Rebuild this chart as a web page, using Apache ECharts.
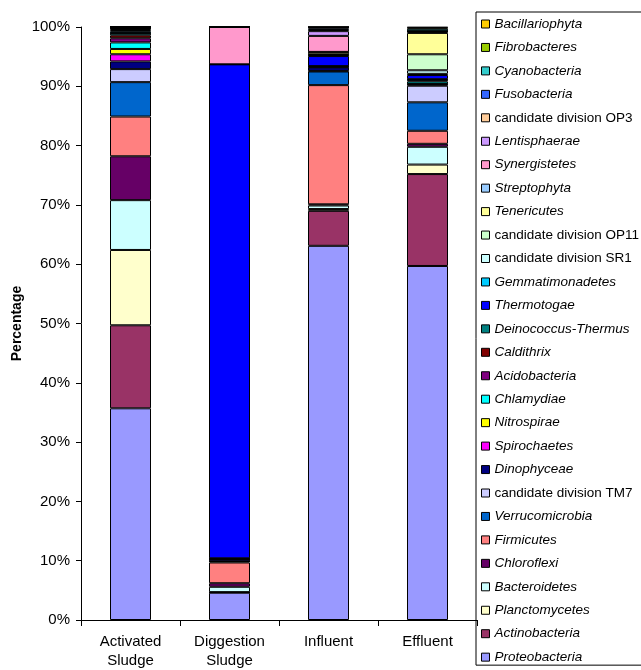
<!DOCTYPE html>
<html>
<head>
<meta charset="utf-8">
<script src="https://cdn.jsdelivr.net/npm/echarts@6/dist/echarts.min.js"></script>
<style>
html,body{margin:0;padding:0;background:#fff;}
#chart{width:641px;height:670px;}
</style>
</head>
<body>
<div id="chart"></div>
<script>
var categories = ['Activated\nSludge', 'Diggestion\nSludge', 'Influent', 'Effluent'];

// stacking order, bottom to top
var seriesNames = ['Proteobacteria','Actinobacteria','Planctomycetes','Bacteroidetes','Chloroflexi','Firmicutes','Verrucomicrobia','candidate division TM7','Dinophyceae','Spirochaetes','Nitrospirae','Chlamydiae','Acidobacteria','Caldithrix','Deinococcus-Thermus','Thermotogae','Gemmatimonadetes','candidate division SR1','candidate division OP11','Tenericutes','Streptophyta','Synergistetes','Lentisphaerae','candidate division OP3','Fusobacteria','Cyanobacteria','Fibrobacteres','Bacillariophyta'];

var seriesColors = ['#9999FF','#993366','#FFFFCC','#CCFFFF','#660066','#FF8080','#0066CC','#CCCCFF','#000080','#FF00FF','#FFFF00','#00FFFF','#800080','#800000','#008080','#0000FF','#00CCFF','#CCFFFF','#CCFFCC','#FFFF99','#99CCFF','#FF99CC','#CC99FF','#FFCC99','#3366FF','#33CCCC','#99CC00','#FFCC00'];

var Proteobacteria = [35.7, 4.6, 63.1, 59.7];
var Actinobacteria = [14.0, 0.1, 5.9, 15.5];
var Planctomycetes = [12.7, 0.0, 0.3, 1.6];
var Bacteroidetes = [8.4, 0.9, 0.6, 3.0];
var Chloroflexi = [7.4, 0.6, 0.2, 0.5];
var Firmicutes = [6.7, 3.5, 20.1, 2.2];
var Verrucomicrobia = [5.8, 0.2, 2.3, 4.8];
var TM7 = [2.2, 0.0, 0.1, 2.8];
var Dinophyceae = [1.3, 0.4, 0.6, 0.2];
var Spirochaetes = [1.2, 0.0, 0.1, 0.1];
var Nitrospirae = [0.9, 0.0, 0.0, 0.0];
var Chlamydiae = [1.1, 0.0, 0.0, 0.4];
var Acidobacteria = [0.7, 0.1, 0.1, 0.2];
var Caldithrix = [0.5, 0.0, 0.0, 0.1];
var Deinococcus = [0.4, 0.0, 0.0, 0.1];
var Thermotogae = [0.0, 83.3, 1.7, 0.7];
var Gemmatimonadetes = [0.3, 0.0, 0.1, 0.2];
var SR1 = [0.2, 0.0, 0.1, 0.6];
var OP11 = [0.2, 0.0, 0.1, 2.7];
var Tenericutes = [0.1, 0.0, 0.4, 3.6];
var Streptophyta = [0.1, 0.0, 0.0, 0.2];
var Synergistetes = [0.1, 6.3, 2.7, 0.1];
var Lentisphaerae = [0.0, 0.0, 0.8, 0.0];
var OP3 = [0.0, 0.0, 0.2, 0.0];
var Fusobacteria = [0.0, 0.0, 0.3, 0.0];
var Cyanobacteria = [0.0, 0.0, 0.2, 0.4];
var Fibrobacteres = [0.0, 0.0, 0.0, 0.2];
var Bacillariophyta = [0.0, 0.0, 0.0, 0.1];

var seriesValues = [Proteobacteria, Actinobacteria, Planctomycetes, Bacteroidetes, Chloroflexi, Firmicutes, Verrucomicrobia, TM7, Dinophyceae, Spirochaetes, Nitrospirae, Chlamydiae, Acidobacteria, Caldithrix, Deinococcus, Thermotogae, Gemmatimonadetes, SR1, OP11, Tenericutes, Streptophyta, Synergistetes, Lentisphaerae, OP3, Fusobacteria, Cyanobacteria, Fibrobacteres, Bacillariophyta];

var yTicks = ['0%','10%','20%','30%','40%','50%','60%','70%','80%','90%','100%'];

var FONT = 'Arial, "Liberation Sans", sans-serif';

var series = seriesNames.map(function (n, i) {
  return {
    name: n,
    type: 'bar',
    stack: 'total',
    barWidth: 41,
    data: seriesValues[i],
    itemStyle: { color: seriesColors[i], borderColor: '#000', borderWidth: 1 },
    emphasis: { disabled: true }
  };
});

var chart = echarts.init(document.getElementById('chart'), null, { renderer: 'canvas' });
chart.setOption({
  animation: false,
  backgroundColor: '#fff',
  grid: { left: 81, right: 164, top: 27, bottom: 50, containLabel: false },
  xAxis: {
    type: 'category',
    data: categories,
    axisLine: { lineStyle: { color: '#000', width: 1 } },
    axisTick: { show: true, alignWithLabel: false, length: 6, lineStyle: { color: '#000' } },
    axisLabel: { color: '#000', fontSize: 15, fontFamily: FONT, margin: 12, lineHeight: 19, interval: 0 }
  },
  yAxis: {
    type: 'value',
    min: 0, max: 100, interval: 10,
    name: 'Percentage',
    nameLocation: 'middle',
    nameGap: 57,
    nameMoveOverlap: false,
    nameTextStyle: { color: '#000', fontSize: 14, fontWeight: 'bold', fontFamily: FONT },
    splitLine: { show: false },
    axisLine: { show: true, lineStyle: { color: '#000', width: 1 } },
    axisTick: { show: true, length: 5, lineStyle: { color: '#000' } },
    axisLabel: {
      color: '#000', fontSize: 15, fontFamily: FONT, margin: 11,
      formatter: function (v) { return yTicks[Math.round(v / 10)]; }
    }
  },
  legend: {
    orient: 'vertical',
    left: 476, top: 12,
    data: seriesNames.slice().reverse(),
    itemWidth: 8, itemHeight: 8,
    itemGap: 9.45,
    padding: [5, 40, 1, 5],
    borderColor: '#000', borderWidth: 1,
    selectedMode: false,
    icon: 'rect',
    itemStyle: { borderColor: '#000', borderWidth: 1 },
    textStyle: {
      fontSize: 13.5, fontFamily: FONT, color: '#000', lineHeight: 14, padding: [0, 0, 0, 0],
      rich: {
        i: { fontSize: 13.5, fontStyle: 'italic', fontFamily: FONT, color: '#000', lineHeight: 14 },
        n: { fontSize: 13.5, fontFamily: FONT, color: '#000', lineHeight: 14 }
      }
    },
    formatter: function (name) {
      return name.indexOf('candidate') === 0 ? '{n|' + name + '}' : '{i|' + name + '}';
    }
  },
  series: series
});
</script>
</body>
</html>
